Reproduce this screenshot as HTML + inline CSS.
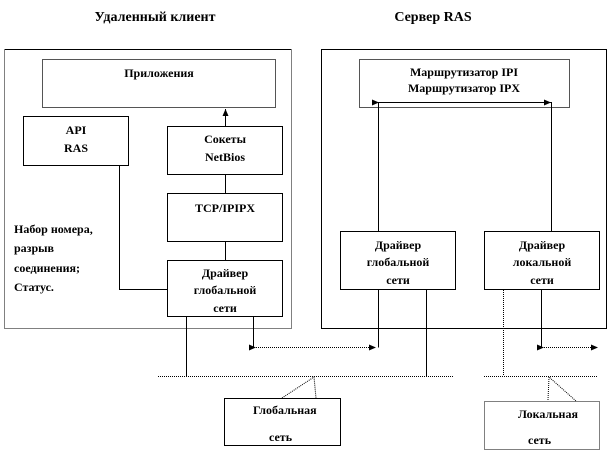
<!DOCTYPE html>
<html><head><meta charset="utf-8"><style>
body{margin:0;background:#fff}
svg text{font-family:"Liberation Serif","DejaVu Serif",serif;font-weight:bold;font-size:12px;fill:#000}
</style></head><body>
<svg width="609" height="452" viewBox="0 0 609 452" xmlns="http://www.w3.org/2000/svg">
<defs>
<marker id="a" markerWidth="8" markerHeight="8" refX="7" refY="4" orient="auto" markerUnits="userSpaceOnUse"><path d="M0,1 L7,4 L0,7z" fill="#000"/></marker>
</defs>
<g fill="none" stroke="#000" stroke-width="1">
<path d="M4.5,49.5 H291.5 V328.5 H4.5 Z" stroke-dasharray="1,1"/>
<path d="M4.5,49.5 H291.5" />
<rect x="42.5" y="59.5" width="233" height="48" stroke="#555"/>
<rect x="23.5" y="116.5" width="105" height="49"/>
<rect x="167.5" y="126.5" width="115" height="48"/>
<rect x="167.5" y="193.5" width="115" height="48"/>
<rect x="167.5" y="260.5" width="115" height="56"/>
<line x1="225.5" y1="126" x2="225.5" y2="109" marker-end="url(#a)"/>
<line x1="225.5" y1="175" x2="225.5" y2="193"/>
<line x1="225.5" y1="242" x2="225.5" y2="260"/>
<path d="M119.5,165 V289.5 H167"/>
<rect x="321.5" y="49.5" width="285" height="279"/>
<rect x="359.5" y="59.5" width="210" height="48" stroke="#555"/>
<line x1="379" y1="102.5" x2="551" y2="102.5" marker-start="url(#a)" marker-end="url(#a)"/>
<line x1="378.5" y1="102" x2="378.5" y2="231"/>
<line x1="551.5" y1="102" x2="551.5" y2="231"/>
<rect x="340.5" y="231.5" width="115" height="58"/>
<rect x="484.5" y="231.5" width="115" height="58"/>
<line x1="186.5" y1="317" x2="186.5" y2="376"/>
<path d="M253.5,317 V347.5"/>
<path d="M378.5,290 V347.5"/>
<line x1="256" y1="347.5" x2="376" y2="347.5" stroke-dasharray="1,1" marker-start="url(#a)" marker-end="url(#a)"/>
<line x1="426.5" y1="290" x2="426.5" y2="376"/>
<line x1="503.5" y1="290" x2="503.5" y2="376" stroke-dasharray="1,1"/>
<path d="M541.5,290 V347.5"/>
<line x1="544" y1="347.5" x2="598" y2="347.5" stroke-dasharray="1,1" marker-start="url(#a)" marker-end="url(#a)"/>
<line x1="158" y1="376.5" x2="454" y2="376.5" stroke-dasharray="1,1"/>
<line x1="484" y1="376.5" x2="598" y2="376.5" stroke-dasharray="1,1"/>
<path d="M224.5,398.5 H340.5 V445.5 H224.5 Z"/>
<path d="M282,398 L314,377 L316,398" stroke-dasharray="1,1"/>
<path d="M484.5,401.5 H599.5 V449.5 H484.5 Z" stroke-dasharray="1,1"/>
<path d="M548,400 L549,377 L576,401" stroke-dasharray="1,1"/>
</g>
<text x="155" y="21" text-anchor="middle" style="font-size:14px">Удаленный клиент</text>
<text x="433" y="21" text-anchor="middle" style="font-size:14px">Сервер RAS</text>
<text x="159" y="77" text-anchor="middle">Приложения</text>
<text x="76" y="134" text-anchor="middle">API</text>
<text x="76" y="152" text-anchor="middle">RAS</text>
<text x="225" y="143" text-anchor="middle">Сокеты</text>
<text x="225" y="161" text-anchor="middle">NetBios</text>
<text x="225" y="212" text-anchor="middle">TCP/IPIPX</text>
<text x="225" y="277" text-anchor="middle">Драйвер</text>
<text x="225" y="294" text-anchor="middle">глобальной</text>
<text x="225" y="312" text-anchor="middle">сети</text>
<text x="14" y="233">Набор номера,</text>
<text x="14" y="252">разрыв</text>
<text x="14" y="272">соединения;</text>
<text x="14" y="291">Статус.</text>
<text x="464" y="76" text-anchor="middle">Маршрутизатор IPI</text>
<text x="464" y="92" text-anchor="middle">Маршрутизатор IPX</text>
<text x="398" y="249" text-anchor="middle">Драйвер</text>
<text x="398" y="266" text-anchor="middle">глобальной</text>
<text x="398" y="284" text-anchor="middle">сети</text>
<text x="542" y="249" text-anchor="middle">Драйвер</text>
<text x="542" y="266" text-anchor="middle">локальной</text>
<text x="542" y="284" text-anchor="middle">сети</text>
<text x="253" y="414">Глобальная</text>
<text x="269" y="441">сеть</text>
<text x="518" y="418">Локальная</text>
<text x="528" y="444">сеть</text>
</svg>
</body></html>
